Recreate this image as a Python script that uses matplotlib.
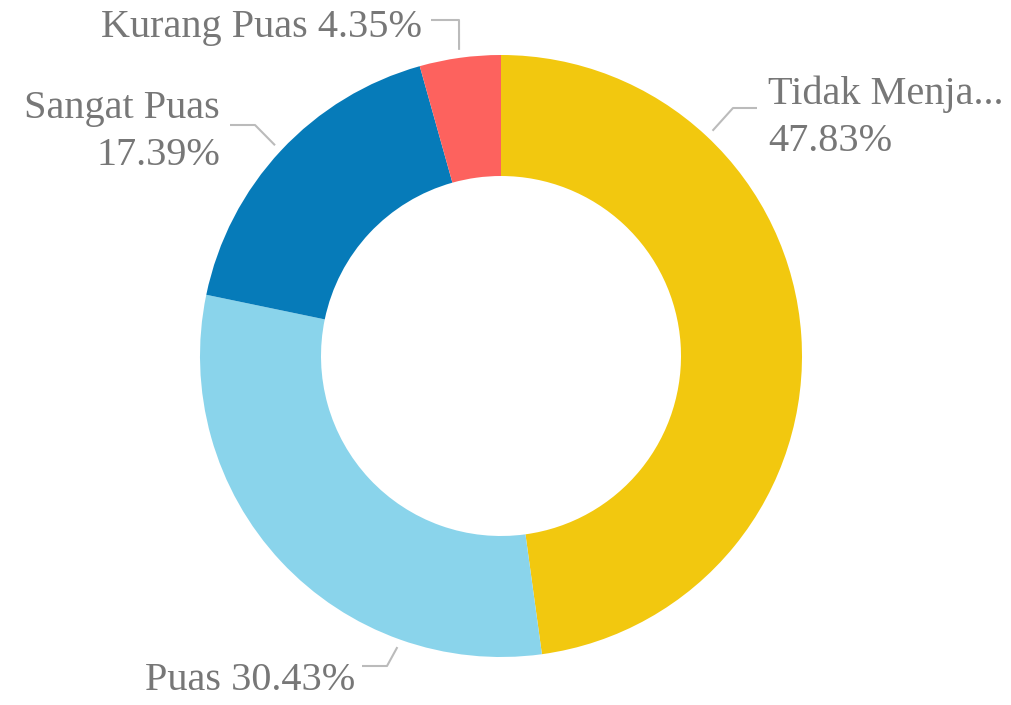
import numpy as np
import matplotlib
matplotlib.use("Agg")
import matplotlib.pyplot as plt

# Data
categories = ["Tidak Menja...", "Puas", "Sangat Puas", "Kurang Puas"]
values = [47.83, 30.43, 17.39, 4.35]
pct_labels = ["47.83%", "30.43%", "17.39%", "4.35%"]
colors = ["#F2C80F", "#8AD4EB", "#067BB9", "#FD625E"]

# Layout (pixel space, y measured from top of image)
W, H = 1011, 705
cx, cy = 501, 356
R_out, R_in = 301, 180
# leader: (start angle deg, elbow x,y, end x,y, text x,y, ha, text)
layout = [
    (46.8, (733, 108), (757, 108), (768, 118), "left", "{c}\n{p}"),
    (250.4, (387, 666), (362, 666), (355, 680), "right", "{c} {p}"),
    (137.0, (255, 125), (230, 125), (220, 132), "right", "{c}\n{p}"),
    (97.8, (459, 20), (431, 20), (422, 27), "right", "{c} {p}"),
]

fig = plt.figure(figsize=(W / 100, H / 100), dpi=100)
ax = fig.add_axes([0, 0, 1, 1])

ax.pie(values, colors=colors, startangle=90, counterclock=False,
       center=(cx, H - cy), radius=R_out,
       wedgeprops=dict(width=R_out - R_in, linewidth=0))
ax.set_xlim(0, W)
ax.set_ylim(0, H)
ax.set_aspect("equal")
ax.axis("off")

text_color = "#777777"
line_color = "#BBBBBB"
for (ang, elbow, end, tpos, ha, fmt), c, p in zip(layout, categories, pct_labels):
    a = np.deg2rad(ang)
    sx = cx + 309 * np.cos(a)
    sy = (H - cy) + 309 * np.sin(a)
    ax.plot([sx, elbow[0], end[0]], [sy, H - elbow[1], H - end[1]],
            color=line_color, lw=1.5, solid_capstyle="butt")
    ax.text(tpos[0], H - tpos[1], fmt.format(c=c, p=p), ha=ha, va="center",
            multialignment=ha, fontsize=29, color=text_color,
            family="Liberation Serif", linespacing=1.35)

fig.savefig("out.png", dpi=100)
